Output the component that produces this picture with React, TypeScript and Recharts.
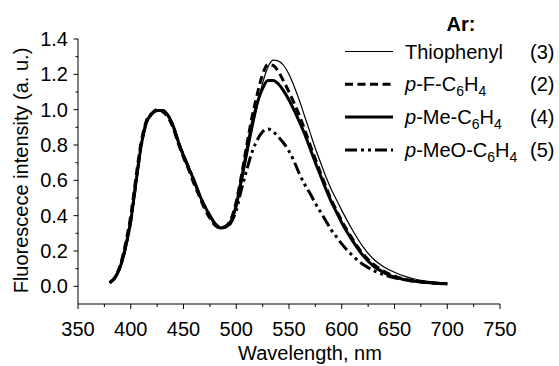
import React from 'react';
import { LineChart, Line, XAxis, YAxis } from 'recharts';

// wavelength grid (nm)
const wavelengths = [
  380, 385, 390, 395, 400, 405, 410, 415, 420, 425, 430, 435, 440, 445, 450, 455, 460, 465, 470, 475,
  480, 485, 490, 495, 500, 505, 510, 515, 520, 525, 530, 535, 540, 545, 550, 555, 560, 565, 570, 575,
  580, 585, 590, 595, 600, 610, 620, 630, 640, 650, 660, 670, 680, 690, 700,
];

// normalised fluorescence intensity
const thiophenyl = [
  0.02, 0.04, 0.1, 0.2, 0.35, 0.57, 0.79, 0.92, 0.975, 0.995, 0.995, 0.975, 0.92, 0.83, 0.75, 0.68, 0.6, 0.53, 0.46, 0.4,
  0.36, 0.335, 0.335, 0.365, 0.44, 0.58, 0.73, 0.88, 1.02, 1.15, 1.24, 1.28, 1.275, 1.25, 1.2, 1.13, 1.05, 0.96, 0.87, 0.78,
  0.7, 0.62, 0.55, 0.49, 0.43, 0.32, 0.225, 0.155, 0.11, 0.08, 0.056, 0.04, 0.03, 0.022, 0.017,
];
const pF = [
  0.02, 0.05, 0.12, 0.24, 0.4, 0.62, 0.82, 0.94, 0.98, 1.0, 0.99, 0.96, 0.9, 0.81, 0.73, 0.66, 0.58, 0.51, 0.44, 0.385,
  0.345, 0.33, 0.34, 0.38, 0.48, 0.63, 0.8, 0.96, 1.09, 1.2, 1.255, 1.25, 1.215, 1.16, 1.1, 1.035, 0.965, 0.885, 0.8, 0.72,
  0.64, 0.565, 0.49, 0.43, 0.37, 0.27, 0.185, 0.125, 0.085, 0.058, 0.04, 0.03, 0.022, 0.018, 0.015,
];
const pMe = [
  0.02, 0.05, 0.11, 0.22, 0.37, 0.59, 0.8, 0.93, 0.975, 0.995, 0.995, 0.97, 0.91, 0.82, 0.74, 0.67, 0.6, 0.52, 0.455, 0.4,
  0.355, 0.33, 0.335, 0.37, 0.46, 0.61, 0.77, 0.92, 1.04, 1.12, 1.165, 1.165, 1.145, 1.105, 1.055, 0.995, 0.93, 0.86, 0.78, 0.7,
  0.625, 0.55, 0.48, 0.42, 0.36, 0.26, 0.175, 0.115, 0.078, 0.052, 0.037, 0.028, 0.021, 0.017, 0.014,
];
const pMeO = [
  0.02, 0.05, 0.11, 0.22, 0.37, 0.59, 0.8, 0.93, 0.975, 0.995, 0.995, 0.97, 0.91, 0.82, 0.74, 0.67, 0.6, 0.52, 0.455, 0.4,
  0.355, 0.335, 0.335, 0.36, 0.43, 0.55, 0.66, 0.76, 0.83, 0.875, 0.89, 0.875, 0.845, 0.81, 0.765, 0.705, 0.635, 0.575, 0.525, 0.47,
  0.42, 0.37, 0.32, 0.28, 0.24, 0.175, 0.125, 0.09, 0.065, 0.048, 0.037, 0.028, 0.022, 0.017, 0.014,
];

const xTicks = [350, 375, 400, 425, 450, 475, 500, 525, 550, 575, 600, 625, 650, 675, 700, 725, 750];
const yTicks = [0, 0.1, 0.2, 0.3, 0.4, 0.5, 0.6, 0.7, 0.8, 0.9, 1.0, 1.1, 1.2, 1.3, 1.4];

const FONT = '"Liberation Sans", Arial, Helvetica, sans-serif';

const series = [
  { key: 'thio', values: thiophenyl, width: 1.2, dash: undefined, name: 'Thiophenyl', sub: false, num: '(3)' },
  { key: 'pF', values: pF, width: 3, dash: '8 4.5', name: 'p-F-C6H4', sub: true, num: '(2)' },
  { key: 'pMe', values: pMe, width: 3, dash: undefined, name: 'p-Me-C6H4', sub: true, num: '(4)' },
  { key: 'pMeO', values: pMeO, width: 3, dash: '12 4 3 4 3 4', name: 'p-MeO-C6H4', sub: true, num: '(5)' },
];

const data = wavelengths.map((wl, i) => ({
  wl,
  thio: thiophenyl[i],
  pF: pF[i],
  pMe: pMe[i],
  pMeO: pMeO[i],
}));

const XTick = (props: any) => {
  const { x, y, payload } = props;
  const major = payload.value % 50 === 0;
  return (
    <g>
      <line x1={x} x2={x} y1={y} y2={y + (major ? 5 : 3)} stroke="#000" strokeWidth={1} />
      {major && (
        <text x={x} y={y + 32} textAnchor="middle" fontSize={20} fontFamily={FONT} fill="#000">
          {payload.value}
        </text>
      )}
    </g>
  );
};

const YTick = (props: any) => {
  const { x, y, payload } = props;
  const major = Math.round(payload.value * 10) % 2 === 0;
  return (
    <g>
      <line x1={x - (major ? 4.5 : 2.5)} x2={x} y1={y} y2={y} stroke="#000" strokeWidth={1} />
      {major && (
        <text x={x - 10} y={y} dy="0.35em" textAnchor="end" fontSize={20} fontFamily={FONT} fill="#000">
          {payload.value.toFixed(1)}
        </text>
      )}
    </g>
  );
};

function LegendName({ name, sub }: { name: string; sub: boolean }) {
  if (!sub) return <tspan>{name}</tspan>;
  // "p-X-C6H4": italic p, subscripted 6 and 4
  const rest = name.slice(1, name.length - 4); // "-X-"
  return (
    <>
      <tspan fontStyle="italic">p</tspan>
      <tspan>{rest}C</tspan>
      <tspan fontSize={14} dy={5}>6</tspan>
      <tspan dy={-5}>H</tspan>
      <tspan fontSize={14} dy={5}>4</tspan>
    </>
  );
}

export default function App() {
  return (
    <div style={{ position: 'fixed', left: 0, top: 0, width: 559, height: 366, background: '#fff' }}>
      <LineChart
        width={559}
        height={366}
        data={data}
        margin={{ top: 39, right: 59, bottom: 0, left: 0 }}
      >
        <XAxis
          dataKey="wl"
          type="number"
          domain={[350, 750]}
          ticks={xTicks}
          interval={0}
          height={62}
          tickSize={0}
          tickMargin={0}
          tickLine={false}
          tick={<XTick />}
          axisLine={{ stroke: '#000', strokeWidth: 1 }}
          label={(p: any) => (
            <text
              x={310}
              y={p.viewBox.y + 56}
              textAnchor="middle"
              fontSize={20}
              fontFamily={FONT}
              fill="#000"
            >
              Wavelength, nm
            </text>
          )}
        />
        <YAxis
          type="number"
          domain={[-0.1, 1.4]}
          ticks={yTicks}
          interval={0}
          width={78}
          allowDataOverflow
          tickSize={0}
          tickMargin={0}
          tickLine={false}
          tick={<YTick />}
          axisLine={{ stroke: '#000', strokeWidth: 1 }}
          label={(p: any) => {
            const cx = 21;
            const cy = p.viewBox.y + p.viewBox.height / 2 - 1;
            return (
              <text
                x={cx}
                y={cy}
                transform={`rotate(-90 ${cx} ${cy})`}
                textAnchor="middle"
                dominantBaseline="central"
                fontSize={20}
                fontFamily={FONT}
                fill="#000"
              >
                Fluorescece intensity (a. u.)
              </text>
            );
          }}
        />
        {series.map((s) => (
          <Line
            key={s.key}
            type="monotone"
            dataKey={s.key}
            stroke="#000"
            strokeWidth={s.width}
            strokeDasharray={s.dash}
            dot={false}
            activeDot={false}
            isAnimationActive={false}
          />
        ))}
      </LineChart>

      {/* Legend */}
      <svg width={559} height={366} style={{ position: 'absolute', left: 0, top: 0, pointerEvents: 'none' }}>
        <text x={461} y={31} textAnchor="middle" fontSize={20} fontWeight="bold" fontFamily={FONT} fill="#000">
          Ar:
        </text>
        {series.map((s, i) => {
          const cy = 51.5 + i * 32.8;
          return (
            <g key={s.key}>
              <line x1={345} x2={393} y1={cy} y2={cy} stroke="#000" strokeWidth={s.width} strokeDasharray={s.dash} />
              <text x={405} y={cy + 7} fontSize={20} fontFamily={FONT} fill="#000">
                <LegendName name={s.name} sub={s.sub} />
              </text>
              <text x={530} y={cy + 7} fontSize={20} fontFamily={FONT} fill="#000">
                {s.num}
              </text>
            </g>
          );
        })}
      </svg>
    </div>
  );
}
